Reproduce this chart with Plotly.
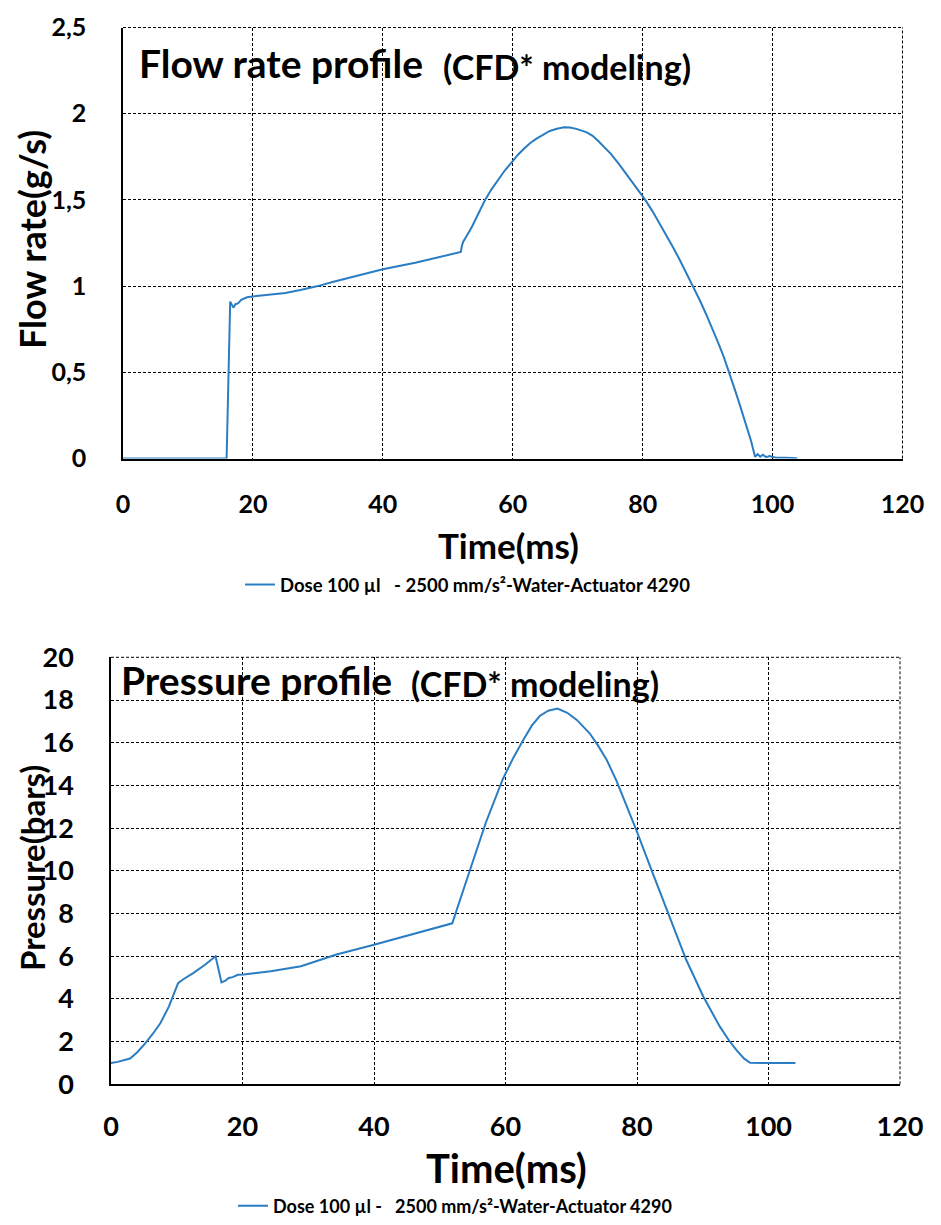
import plotly.graph_objects as go

# ---------------- data ----------------
flow_time = [0, 15.95, 16.5, 16.75, 17.0, 17.3, 17.7, 18.2, 19.1, 20, 25, 27.3, 30, 32.4, 35, 40, 45, 47.8,
             52.0, 52.15, 52.35, 52.9, 53.7, 54.7, 55.7, 56.7, 57.8, 58.8, 59.9, 60.8, 61.8, 62.7, 63.6,
             64.7, 65.7, 66.8, 67.9, 68.8, 69.8, 71.4, 72.3, 73.2, 74.2, 75.1, 76.3, 77.7, 79.0, 80.4,
             81.5, 82.5, 83.5, 84.5, 85.6, 86.7, 87.8, 88.8, 89.8, 90.8, 91.6, 92.5, 93.35, 94.1, 94.8,
             95.4, 96.0, 96.7, 97.3, 97.7, 98.1, 98.5, 99, 99.5, 100.5, 102, 103.8]
flow_rate = [0, 0, 0.91, 0.89, 0.875, 0.895, 0.9, 0.92, 0.935, 0.94, 0.96, 0.977, 1.0, 1.025, 1.05, 1.098,
             1.135, 1.16, 1.198, 1.23, 1.256, 1.29, 1.343, 1.42, 1.497, 1.56, 1.62, 1.672, 1.72, 1.762,
             1.80, 1.83, 1.854, 1.88, 1.90, 1.913, 1.921, 1.92, 1.912, 1.892, 1.872, 1.84, 1.80, 1.767,
             1.71, 1.64, 1.575, 1.50, 1.435, 1.37, 1.305, 1.237, 1.16, 1.08, 1.0, 0.918, 0.834, 0.75,
             0.673, 0.588, 0.5, 0.41, 0.33, 0.264, 0.185, 0.1, 0.01, 0.025, 0.01, 0.022, 0.008, 0.014,
             0.005, 0.004, 0.002]

press_time = [0, 1, 2.9, 4, 5.2, 6.4, 7.5, 8.8, 10.2, 11, 12.5, 14.3, 15.9, 16.8, 17.4, 17.9, 18.5, 19.3,
              20.2, 24.3, 28.9, 34.3, 40, 43.9, 48, 51.9, 54.6, 57.0, 59.6, 61.2, 62.7, 64.0, 65.2, 66.5,
              67.9, 69.4, 70.8, 72.8, 74.1, 75.4, 76.9, 79.9, 82.4, 85.0, 87.5, 90.1, 92.6, 94, 95.1, 96.3,
              97.2, 100, 104.1]
press_bar = [1.0, 1.05, 1.21, 1.5, 1.92, 2.38, 2.86, 3.64, 4.74, 4.92, 5.21, 5.6, 6.0, 4.77, 4.85, 4.98,
             5.02, 5.13, 5.14, 5.29, 5.53, 6.08, 6.54, 6.87, 7.2, 7.54, 10.04, 12.25, 14.3, 15.3, 16.13,
             16.8, 17.25, 17.5, 17.6, 17.4, 17.08, 16.44, 15.85, 15.19, 14.2, 11.91, 9.88, 7.85, 5.82,
             4.10, 2.70, 2.05, 1.61, 1.2, 1.01, 1.0, 1.0]

x_ticks = [0, 20, 40, 60, 80, 100, 120]
x_labels = ["0", "20", "40", "60", "80", "100", "120"]
flow_ticks = [0, 0.5, 1, 1.5, 2, 2.5]
flow_labels = ["0", "0,5", "1", "1,5", "2", "2,5"]
press_ticks = [0, 2, 4, 6, 8, 10, 12, 14, 16, 18, 20]
press_labels = ["0", "2", "4", "6", "8", "10", "12", "14", "16", "18", "20"]

legend_top = "Dose 100 µl   - 2500 mm/s²-Water-Actuator 4290"
legend_bottom = "Dose 100 µl -   2500 mm/s²-Water-Actuator 4290"

FONT = "Lato"
BLUE = "#2A7DC2"
PAGE_OFF = 8               # default body margin of the html page
W, H = 941 - 2 * PAGE_OFF, 1225 - 2 * PAGE_OFF


def px_x(p):
    return (p - PAGE_OFF) / W


def px_y(p):
    return 1 - (p - PAGE_OFF) / H


def bold(labels):
    return ["<b>%s</b>" % s for s in labels]


fig = go.Figure()
fig.add_trace(go.Scatter(x=flow_time, y=flow_rate, mode="lines", name="<b>%s</b>" % legend_top,
                         line=dict(color=BLUE, width=2), xaxis="x", yaxis="y", legend="legend"))
fig.add_trace(go.Scatter(x=press_time, y=press_bar, mode="lines", name="<b>%s</b>" % legend_bottom,
                         line=dict(color=BLUE, width=2), xaxis="x2", yaxis="y2", legend="legend2"))

DASH = "3px,2px"
grid = dict(showgrid=True, gridcolor="black", gridwidth=1, griddash=DASH, zeroline=False,
            ticks="", showline=True, linecolor="black", automargin=False)

fig.update_layout(
    width=W, height=H, margin=dict(l=0, r=0, t=0, b=0, autoexpand=False),
    paper_bgcolor="white", plot_bgcolor="white",
    font=dict(family=FONT, color="black"),
    xaxis=dict(domain=[px_x(123), px_x(902.5)], anchor="y", range=[0, 120], tickvals=x_ticks,
               ticktext=bold(x_labels), tickfont=dict(size=25, family=FONT),
               ticklabelstandoff=22, linewidth=2, **grid),
    yaxis=dict(domain=[px_y(458.5), px_y(27.5)], anchor="x", range=[0, 2.5], tickvals=flow_ticks,
               ticktext=bold(flow_labels), tickfont=dict(size=25, family=FONT),
               ticklabelstandoff=30, linewidth=1.5, **grid),
    xaxis2=dict(domain=[px_x(111), px_x(900)], anchor="y2", range=[0, 120], tickvals=x_ticks,
                ticktext=bold(x_labels), tickfont=dict(size=27, family=FONT),
                ticklabelstandoff=17, linewidth=2, **grid),
    yaxis2=dict(domain=[px_y(1084.3), px_y(657.3)], anchor="x2", range=[0, 20], tickvals=press_ticks,
                ticktext=bold(press_labels), tickfont=dict(size=27, family=FONT),
                ticklabelstandoff=30, linewidth=1.5, **grid),
    legend=dict(x=px_x(240), y=px_y(585), xanchor="left", yanchor="middle", orientation="h",
                font=dict(size=18.5, family=FONT), bgcolor="rgba(0,0,0,0)"),
    legend2=dict(x=px_x(233), y=px_y(1206), xanchor="left", yanchor="middle", orientation="h",
                 font=dict(size=18, family=FONT), bgcolor="rgba(0,0,0,0)"),
    showlegend=True,
)

# dashed gridlines on the top and right borders of each plot area
shapes = []
for xa, ya in (("x", "y"), ("x2", "y2")):
    line = dict(color="black", width=1, dash=DASH)
    shapes.append(dict(type="line", xref=xa + " domain", yref=ya + " domain",
                       x0=0, x1=1, y0=1, y1=1, line=line, layer="below"))
    shapes.append(dict(type="line", xref=xa + " domain", yref=ya + " domain",
                       x0=1, x1=1, y0=0, y1=1, line=line, layer="below"))
fig.update_layout(shapes=shapes)

annos = [
    dict(text="<b>Flow rate profile</b>", x=px_x(137), y=px_y(63), xanchor="left", yanchor="middle",
         font=dict(size=39)),
    dict(text="<b>(CFD* modeling)</b>", x=px_x(441), y=px_y(66), xanchor="left", yanchor="middle",
         font=dict(size=34)),
    dict(text="<b>Pressure profile</b>", x=px_x(119), y=px_y(680), xanchor="left", yanchor="middle",
         font=dict(size=39)),
    dict(text="<b>(CFD* modeling)</b>", x=px_x(409), y=px_y(683), xanchor="left", yanchor="middle",
         font=dict(size=34)),
    dict(text="<b>Time(ms)</b>", x=px_x(508), y=px_y(545), xanchor="center", yanchor="middle",
         font=dict(size=35)),
    dict(text="<b>Time(ms)</b>", x=px_x(506), y=px_y(1168), xanchor="center", yanchor="middle",
         font=dict(size=40)),
    dict(text="<b>Flow rate(g/s)</b>", x=px_x(32), y=px_y(240), xanchor="center", yanchor="middle",
         textangle=-90, font=dict(size=36)),
    dict(text="<b>Pressure(bars)</b>", x=px_x(32), y=px_y(868), xanchor="center", yanchor="middle",
         textangle=-90, font=dict(size=33)),
]
for a in annos:
    a.update(xref="paper", yref="paper", showarrow=False)
    a["font"]["family"] = FONT
    a["font"]["color"] = "black"
fig.update_layout(annotations=annos)

fig.write_html("out.html")
